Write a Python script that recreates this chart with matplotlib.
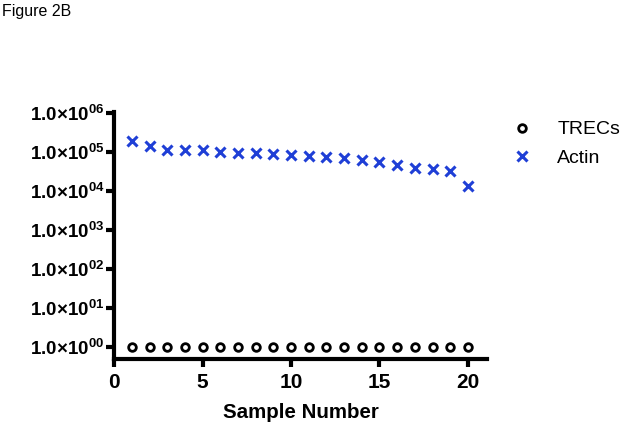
import numpy as np
import matplotlib.pyplot as plt

plt.rcParams['font.family'] = ['Liberation Sans', 'DejaVu Sans']
plt.rcParams['mathtext.fontset'] = 'custom'
plt.rcParams['mathtext.rm'] = 'Liberation Sans'
plt.rcParams['mathtext.bf'] = 'Liberation Sans:bold'

samples = np.arange(1, 21)
trecs = [1.0] * 20
actin = [1.93e5, 1.44e5, 1.18e5, 1.15e5, 1.12e5, 1.0e5, 9.8e4, 9.4e4, 9.3e4, 8.7e4,
         8.2e4, 7.6e4, 7.0e4, 6.2e4, 5.5e4, 4.6e4, 4.0e4, 3.65e4, 3.4e4, 1.4e4]
y_ticks = [1e0, 1e1, 1e2, 1e3, 1e4, 1e5, 1e6]
y_labels = [r'$\mathbf{1.0{\times}10^{0%d}}$' % k for k in range(7)]
x_ticks = [0, 5, 10, 15, 20]

fig = plt.figure(figsize=(6.24, 4.28), dpi=100)
ax = fig.add_axes([0.183, 0.161, 0.598, 0.577])

ax.plot(samples, trecs, 'o', ls='none', mfc='white', mec='black', ms=5.5, mew=2,
        label='TRECs', clip_on=False)
ax.plot(samples, actin, 'x', ls='none', color='#1f3fd6', ms=7, mew=2.2,
        label='Actin', clip_on=False)

ax.set_yscale('log')
ax.set_ylim(10 ** -0.3, 10 ** 6.03)
ax.set_xlim(0, 21.1)
ax.set_yticks(y_ticks)
ax.set_yticklabels(y_labels)
ax.minorticks_off()
ax.set_xticks(x_ticks)
ax.set_xticklabels([str(t) for t in x_ticks], fontweight='bold')

for side in ['top', 'right']:
    ax.spines[side].set_visible(False)
for side in ['left', 'bottom']:
    ax.spines[side].set_linewidth(3)
ax.tick_params(width=3, length=6)
ax.tick_params(axis='y', labelsize=13.5, pad=1)
ax.tick_params(axis='x', labelsize=15, pad=4)

ax.set_xlabel('Sample Number', fontsize=14.8, fontweight='bold', labelpad=8)

ax.legend(loc='upper left', bbox_to_anchor=(0.995, 1.036), frameon=False,
          fontsize=14, handletextpad=0.8, labelspacing=0.55)

fig.text(0.003, 0.972, 'Figure 2B', fontsize=11.5, va='center')

fig.savefig('out.png', dpi=100)
